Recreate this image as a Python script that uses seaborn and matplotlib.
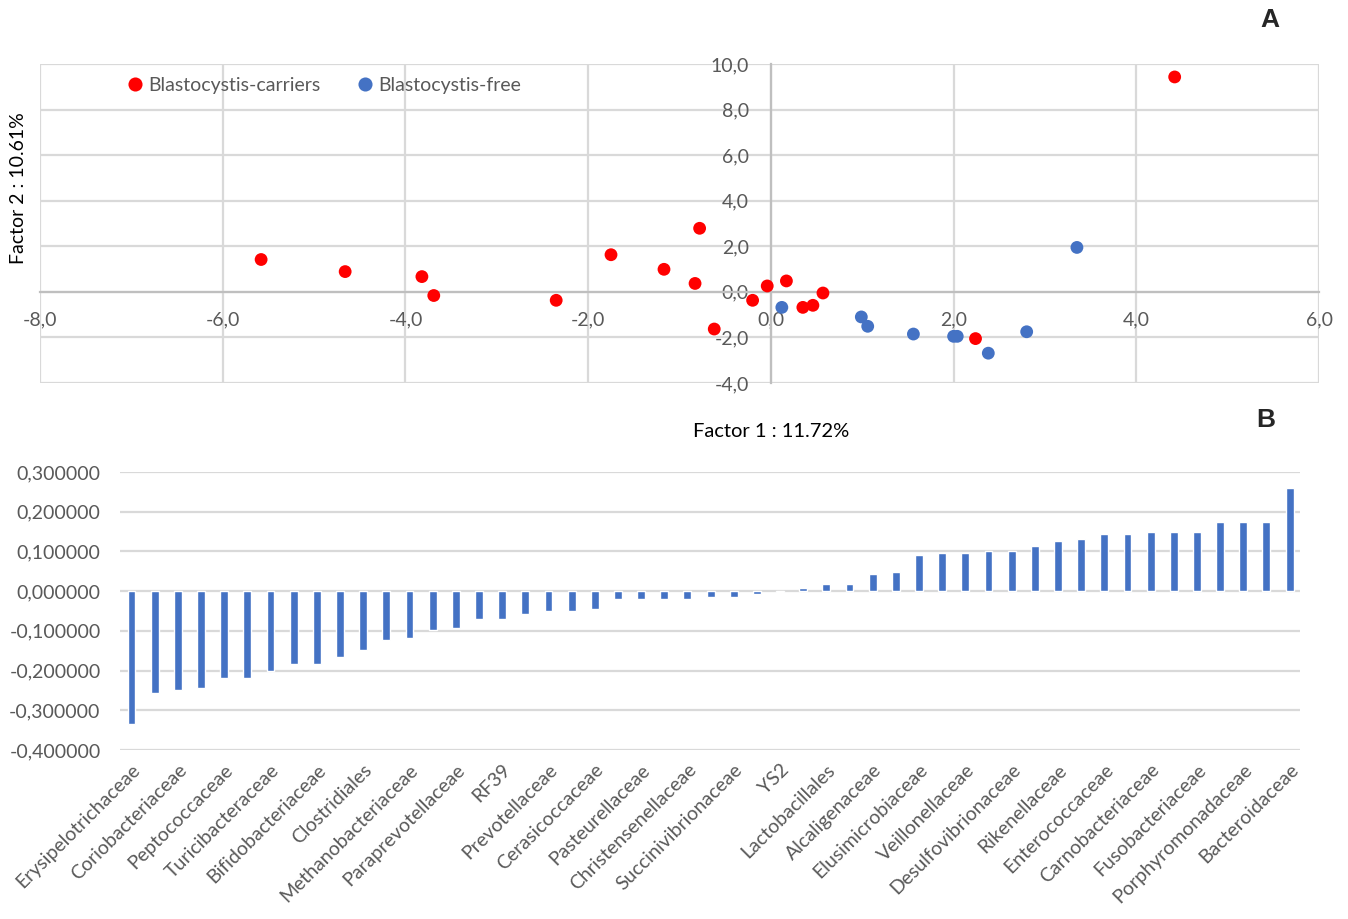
import numpy as np
import pandas as pd
import matplotlib
matplotlib.use("Agg")
import matplotlib.pyplot as plt
from matplotlib.ticker import FuncFormatter, MultipleLocator
import seaborn as sns

# Panel A: PCA scores (Factor 1, Factor 2)
carrier_f1 = [-5.58, -4.66, -3.82, -3.69, -2.35, -1.75, -1.17, -0.78, -0.83,
              -0.62, -0.20, -0.04, 0.17, 0.35, 0.46, 0.57, 2.24, 4.42]
carrier_f2 = [1.42, 0.89, 0.67, -0.16, -0.37, 1.63, 0.99, 2.79, 0.37,
              -1.63, -0.37, 0.26, 0.48, -0.68, -0.59, -0.05, -2.05, 9.43]
free_f1 = [0.12, 0.99, 1.06, 1.56, 2.00, 2.04, 2.38, 2.80, 3.35]
free_f2 = [-0.68, -1.10, -1.51, -1.85, -1.95, -1.95, -2.69, -1.75, 1.95]

# Panel B: loadings sorted, only every other family is labelled
loadings = [-0.334, -0.256, -0.250, -0.244, -0.219, -0.219, -0.202, -0.183, -0.183,
            -0.166, -0.147, -0.123, -0.117, -0.099, -0.093, -0.069, -0.069, -0.057,
            -0.051, -0.051, -0.045, -0.021, -0.021, -0.021, -0.021, -0.014, -0.014,
            -0.008, -0.003, 0.007, 0.018, 0.019, 0.043, 0.049, 0.090, 0.097,
            0.097, 0.102, 0.102, 0.114, 0.126, 0.131, 0.144, 0.144, 0.150,
            0.150, 0.150, 0.174, 0.174, 0.174, 0.259]
tick_families = ["Erysipelotrichaceae", "Coriobacteriaceae", "Peptococcaceae",
                 "Turicibacteraceae", "Bifidobacteriaceae", "Clostridiales",
                 "Methanobacteriaceae", "Paraprevotellaceae", "RF39", "Prevotellaceae",
                 "Cerasicoccaceae", "Pasteurellaceae", "Christensenellaceae",
                 "Succinivibrionaceae", "YS2", "Lactobacillales", "Alcaligenaceae",
                 "Elusimicrobiaceae", "Veillonellaceae", "Desulfovibrionaceae",
                 "Rikenellaceae", "Enterococcaceae", "Carnobacteriaceae",
                 "Fusobacteriaceae", "Porphyromonadaceae", "Bacteroidaceae"]

RED = "#FF0000"
BLUE = "#4472C4"
TXT = "#595959"
GRID = "#D9D9D9"
FS = 14

sns.set_style("white")
plt.rcParams["font.family"] = ["Lato", "DejaVu Sans"]

comma = lambda fmt: FuncFormatter(lambda v, p: (fmt % v).replace(".", ","))

fig = plt.figure(figsize=(13.48, 9.19), dpi=100)

# ---------------- Panel A ----------------
ax1 = fig.add_axes([0.0297, 0.5832, 0.9488, 0.3472])
df_a = pd.DataFrame({
    "f1": carrier_f1 + free_f1,
    "f2": carrier_f2 + free_f2,
    "group": ["Blastocystis-carriers"] * len(carrier_f1) + ["Blastocystis-free"] * len(free_f1),
})
sns.scatterplot(data=df_a, x="f1", y="f2", hue="group",
                palette={"Blastocystis-carriers": RED, "Blastocystis-free": BLUE},
                s=85, edgecolor="none", ax=ax1, zorder=3)
ax1.set_xlim(-8, 6)
ax1.set_ylim(-4, 10)
ax1.xaxis.set_major_locator(MultipleLocator(2))
ax1.yaxis.set_major_locator(MultipleLocator(2))
ax1.xaxis.set_major_formatter(comma("%.1f"))
ax1.yaxis.set_major_formatter(comma("%.1f"))
ax1.grid(True, color=GRID, linewidth=1.6)
ax1.set_axisbelow(True)
for s in ["top", "right"]:
    ax1.spines[s].set_visible(False)
ax1.spines["left"].set_position(("data", 0))
ax1.spines["bottom"].set_position(("data", 0))
for s in ["left", "bottom"]:
    ax1.spines[s].set_color("#BFBFBF")
    ax1.spines[s].set_linewidth(1.6)
ax1.tick_params(axis="both", length=0, labelsize=FS, colors=TXT)
ax1.tick_params(axis="x", pad=14)
ax1.tick_params(axis="y", pad=16)
ax1.set_xlabel("")
ax1.set_ylabel("")
ax1.legend(loc="upper left", bbox_to_anchor=(0.045, 1.015), ncol=2, frameon=False,
           fontsize=FS, labelcolor=TXT, handletextpad=-0.3, columnspacing=1.3,
           markerscale=1.1)

fig.text(0.0135, 0.795, "Factor 2 : 10.61%", rotation=90, ha="center", va="center",
         fontsize=FS, color="black")
fig.text(0.572, 0.53, "Factor 1 : 11.72%", ha="center", va="center",
         fontsize=FS + 0.5, color="black")
fig.text(0.942, 0.978, "A", ha="center", va="center", fontsize=19, fontweight="bold",
         family="Liberation Sans")
fig.text(0.939, 0.543, "B", ha="center", va="center", fontsize=19, fontweight="bold",
         family="Liberation Sans")

# ---------------- Panel B ----------------
ax2 = fig.add_axes([0.089, 0.1839, 0.8754, 0.3025])
df_b = pd.DataFrame({"rank": np.arange(len(loadings)), "loading": loadings})
sns.barplot(data=df_b, x="rank", y="loading", color=BLUE, saturation=1,
            width=0.34, ax=ax2, zorder=3)
ax2.set_xlim(-0.5, len(loadings) - 0.55)
ax2.set_ylim(-0.4, 0.3)
ax2.yaxis.set_major_locator(MultipleLocator(0.1))
ax2.yaxis.set_major_formatter(comma("%.6f"))
ax2.grid(True, axis="y", color=GRID, linewidth=1.6)
ax2.grid(False, axis="x")
ax2.set_axisbelow(True)
for s in ax2.spines.values():
    s.set_visible(False)
ax2.set_xticks(np.arange(0, len(loadings), 2))
ax2.set_xticklabels(tick_families, rotation=45, ha="right", rotation_mode="anchor")
ax2.tick_params(axis="both", length=0, labelsize=FS, colors=TXT)
ax2.tick_params(axis="y", pad=14)
ax2.tick_params(axis="x", pad=8)
ax2.set_xlabel("")
ax2.set_ylabel("")

fig.savefig("out.png", dpi=100)
